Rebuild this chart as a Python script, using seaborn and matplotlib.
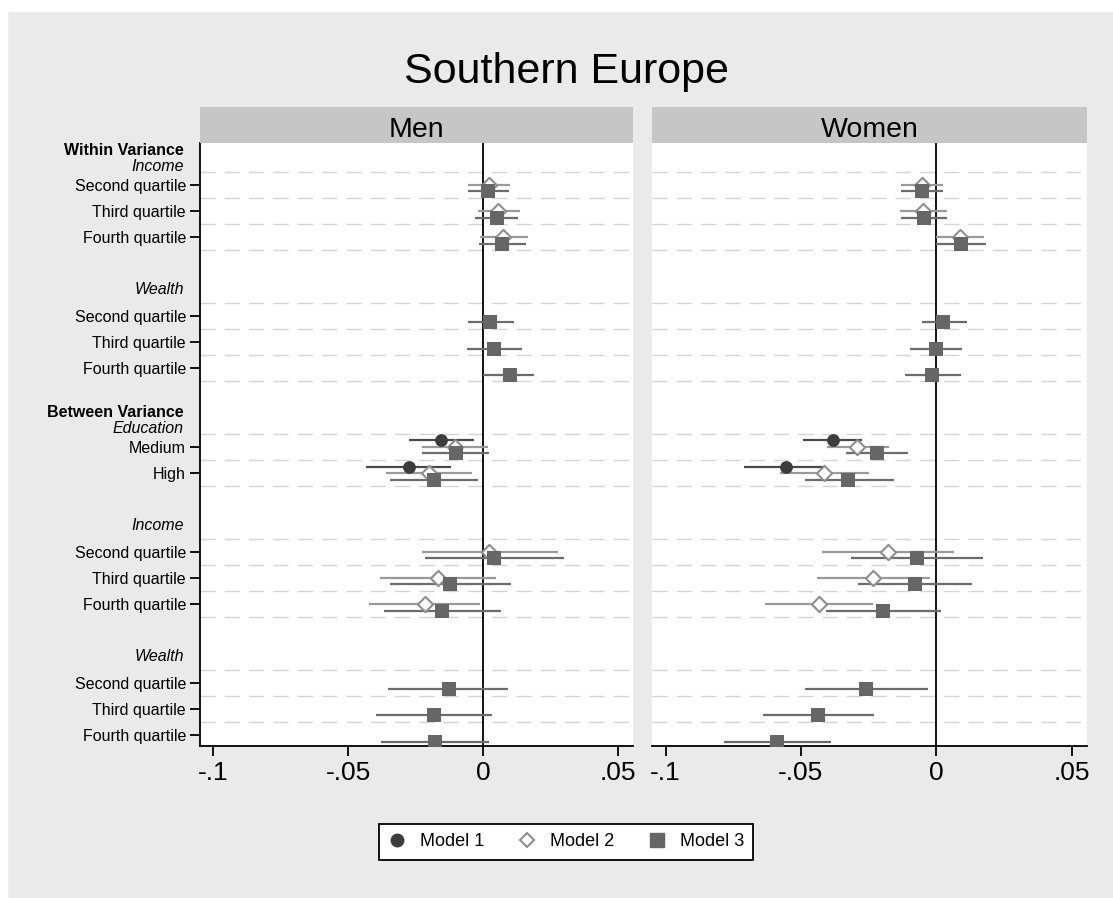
import numpy as np
import pandas as pd
import matplotlib
matplotlib.use("Agg")
import matplotlib.pyplot as plt
from matplotlib.lines import Line2D
from matplotlib.patches import Rectangle
import seaborn as sns

sns.set_theme(style="white")
plt.rcParams["font.family"] = ["Liberation Sans", "DejaVu Sans"]
plt.rcParams["text.color"] = "black"
plt.rcParams["xtick.labelcolor"] = "black"
plt.rcParams["ytick.labelcolor"] = "black"

# ── Datos ─────────────────────────────────────────────────
nan = np.nan
PANELS = ["Men", "Women"]
MODELS = ["Model 1", "Model 2", "Model 3"]

ROW_LABELS = ["Second quartile", "Third quartile", "Fourth quartile",
              "Second quartile", "Third quartile", "Fourth quartile",
              "Medium", "High",
              "Second quartile", "Third quartile", "Fourth quartile",
              "Second quartile", "Third quartile", "Fourth quartile"]
HEADERS = [("Within Variance", "Income"), (None, "Wealth"),
           ("Between Variance", "Education"), (None, "Income"), (None, "Wealth")]

# Men
men_m1     = [nan]*6 + [-0.0156, -0.0276] + [nan]*6
men_m1_lo  = [nan]*6 + [-0.0276, -0.0433] + [nan]*6
men_m1_hi  = [nan]*6 + [-0.0035, -0.0120] + [nan]*6
men_m2     = [0.0022, 0.0055, 0.0075, nan, nan, nan, -0.0105, -0.0202,
              0.0022, -0.0166, -0.0217, nan, nan, nan]
men_m2_lo  = [-0.0055, -0.0020, -0.0010, nan, nan, nan, -0.0228, -0.0360,
              -0.0228, -0.0382, -0.0422, nan, nan, nan]
men_m2_hi  = [0.0099, 0.0137, 0.0168, nan, nan, nan, 0.0017, -0.0043,
              0.0276, 0.0048, -0.0012, nan, nan, nan]
men_m3     = [0.0020, 0.0050, 0.0070, 0.0026, 0.0042, 0.0099, -0.0100, -0.0183,
              0.0042, -0.0122, -0.0151, -0.0128, -0.0183, -0.0180]
men_m3_lo  = [-0.0055, -0.0030, -0.0017, -0.0055, -0.0060, 0.0000, -0.0225, -0.0345,
              -0.0214, -0.0345, -0.0368, -0.0351, -0.0397, -0.0379]
men_m3_hi  = [0.0095, 0.0130, 0.0160, 0.0114, 0.0145, 0.0190, 0.0022, -0.0020,
              0.0299, 0.0103, 0.0068, 0.0094, 0.0032, 0.0022]

# Women
wom_m1     = [nan]*6 + [-0.0383, -0.0556] + [nan]*6
wom_m1_lo  = [nan]*6 + [-0.0492, -0.0709] + [nan]*6
wom_m1_hi  = [nan]*6 + [-0.0273, -0.0411] + [nan]*6
wom_m2     = [-0.0052, -0.0048, 0.0088, nan, nan, nan, -0.0294, -0.0414,
              -0.0180, -0.0234, -0.0434, nan, nan, nan]
wom_m2_lo  = [-0.0130, -0.0133, 0.0000, nan, nan, nan, -0.0405, -0.0578,
              -0.0424, -0.0440, -0.0632, nan, nan, nan]
wom_m2_hi  = [0.0026, 0.0038, 0.0177, nan, nan, nan, -0.0176, -0.0248,
              0.0066, -0.0025, -0.0235, nan, nan, nan]
wom_m3     = [-0.0052, -0.0046, 0.0090, 0.0026, -0.0002, -0.0015, -0.0219, -0.0325,
              -0.0073, -0.0080, -0.0197, -0.0259, -0.0436, -0.0587]
wom_m3_lo  = [-0.0130, -0.0130, 0.0000, -0.0055, -0.0098, -0.0115, -0.0333, -0.0486,
              -0.0315, -0.0290, -0.0409, -0.0486, -0.0640, -0.0785]
wom_m3_hi  = [0.0026, 0.0040, 0.0183, 0.0113, 0.0093, 0.0090, -0.0105, -0.0157,
              0.0171, 0.0130, 0.0016, -0.0030, -0.0232, -0.0390]

SERIES = {
    ("Men", "Model 1"): (men_m1, men_m1_lo, men_m1_hi),
    ("Men", "Model 2"): (men_m2, men_m2_lo, men_m2_hi),
    ("Men", "Model 3"): (men_m3, men_m3_lo, men_m3_hi),
    ("Women", "Model 1"): (wom_m1, wom_m1_lo, wom_m1_hi),
    ("Women", "Model 2"): (wom_m2, wom_m2_lo, wom_m2_hi),
    ("Women", "Model 3"): (wom_m3, wom_m3_lo, wom_m3_hi),
}

# ── Layout de filas (slots) ───────────────────────────────
ROW_SLOTS = [0, 1, 2, 5, 6, 7, 10, 11, 14, 15, 16, 19, 20, 21]
HEADER_SLOTS = [-1, 4, 9, 13, 18]
GRID_Y = sorted([s + 0.5 for s in ROW_SLOTS + HEADER_SLOTS])
OFFSET = {"Model 1": -0.25, "Model 2": 0.0, "Model 3": 0.25}

STYLE = {
    "Model 1": dict(marker="o", s=85, color="#3d3d3d", edgecolor="#3d3d3d", linewidth=0),
    "Model 2": dict(marker="D", s=60, color="white", edgecolor="#8e8e8e", linewidth=1.5),
    "Model 3": dict(marker="s", s=100, color="#666666", edgecolor="#666666", linewidth=0),
}
LINE_COL = {"Model 1": "#4a4a4a", "Model 2": "#9a9a9a", "Model 3": "#6c6c6c"}

rows = []
for (panel, model), (coef, lo, hi) in SERIES.items():
    for i, (c, l, h) in enumerate(zip(coef, lo, hi)):
        if np.isnan(c):
            continue
        rows.append(dict(panel=panel, model=model, coef=c, lo=l, hi=h,
                         y=ROW_SLOTS[i] + OFFSET[model]))
df = pd.DataFrame(rows)

# ── Figura ────────────────────────────────────────────────
W, H = 1113, 898
fig = plt.figure(figsize=(W / 100, H / 100), dpi=100, facecolor="#eaeaea")
fig.patches.append(Rectangle((0, 1 - 11 / H), 1, 11 / H, transform=fig.transFigure,
                             color="white", zorder=0))
fig.patches.append(Rectangle((0, 0), 7 / W, 1, transform=fig.transFigure,
                             color="white", zorder=0))

PANEL_X = {"Men": (200, 633), "Women": (652, 1087)}
TOP, BOTTOM, STRIP_TOP = 143, 746, 107

for panel in PANELS:
    x0, x1 = PANEL_X[panel]
    ax = fig.add_axes([x0 / W, 1 - BOTTOM / H, (x1 - x0) / W, (BOTTOM - TOP) / H])
    ax.set_facecolor("white")

    for g in GRID_Y:
        ax.axhline(g, color="#d4d4d4", lw=1.0, dashes=(11, 6.5), zorder=0)
    ax.axvline(0, color="black", lw=1.3, zorder=1)

    for model in MODELS:
        d = df[(df.panel == panel) & (df.model == model)]
        ax.hlines(d["y"], d["lo"], d["hi"], color=LINE_COL[model], lw=1.6, zorder=2)
        sns.scatterplot(data=d, x="coef", y="y", ax=ax, legend=False, zorder=3,
                        **STYLE[model])

    ax.set_xlim(-0.105, 0.0556)
    ax.set_ylim(21.42, -1.6)
    ax.set_xlabel("")
    ax.set_ylabel("")
    ax.set_xticks([-0.1, -0.05, 0, 0.05], ["-.1", "-.05", "0", ".05"])
    ax.tick_params(axis="x", direction="out", length=7, width=1.3, color="black",
                   labelsize=19, labelcolor="black", pad=4, bottom=True)
    for side in ["top", "right"]:
        ax.spines[side].set_visible(False)
    ax.spines["bottom"].set_color("black")
    ax.spines["bottom"].set_linewidth(1.3)

    if panel == "Men":
        ax.set_yticks(ROW_SLOTS, ROW_LABELS)
        ax.tick_params(axis="y", direction="out", length=7, width=1.3, color="black",
                       labelsize=11.5, labelcolor="black", pad=3, left=True)
        ax.spines["left"].set_color("black")
        ax.spines["left"].set_linewidth(1.3)
        tr = ax.get_yaxis_transform()
        for slot, (bold, ital) in zip(HEADER_SLOTS, HEADERS):
            if bold:
                ax.text(-0.037, slot - 0.33, bold, transform=tr, ha="right", va="center",
                        fontsize=11.5, fontweight="bold", color="black")
                ax.text(-0.037, slot + 0.30, ital, transform=tr, ha="right", va="center",
                        fontsize=11.5, style="italic", color="black")
            else:
                ax.text(-0.037, slot, ital, transform=tr, ha="right", va="center",
                        fontsize=11.5, style="italic", color="black")
    else:
        ax.set_yticks([])
        ax.spines["left"].set_visible(False)

    # cabecera gris del panel
    sax = fig.add_axes([x0 / W, 1 - TOP / H, (x1 - x0) / W, (TOP - STRIP_TOP) / H])
    sax.set_facecolor("#c6c6c6")
    sax.set_xticks([])
    sax.set_yticks([])
    for sp in sax.spines.values():
        sp.set_visible(False)
    fig.text((x0 + x1) / 2 / W, 1 - 137 / H, panel, ha="center", va="baseline",
             fontsize=20.5, color="black")

fig.text(566 / W, 1 - 83 / H, "Southern Europe", ha="center", va="baseline",
         fontsize=31, color="black")

handles = [
    Line2D([], [], ls="none", marker="o", ms=9, color="#3d3d3d"),
    Line2D([], [], ls="none", marker="D", ms=7.5, mfc="white", mec="#8e8e8e", mew=1.5),
    Line2D([], [], ls="none", marker="s", ms=9.5, color="#666666"),
]
leg = fig.legend(handles, MODELS, loc="center", bbox_to_anchor=(566 / W, 1 - 842 / H),
                 ncol=3, fontsize=13, frameon=True, fancybox=False, edgecolor="black",
                 facecolor="white", handlelength=1.0, handletextpad=0.75,
                 columnspacing=1.9, borderpad=0.5, framealpha=1, labelcolor="black")
leg.get_frame().set_linewidth(1.3)

fig.savefig("out.png", dpi=100, facecolor=fig.get_facecolor())
